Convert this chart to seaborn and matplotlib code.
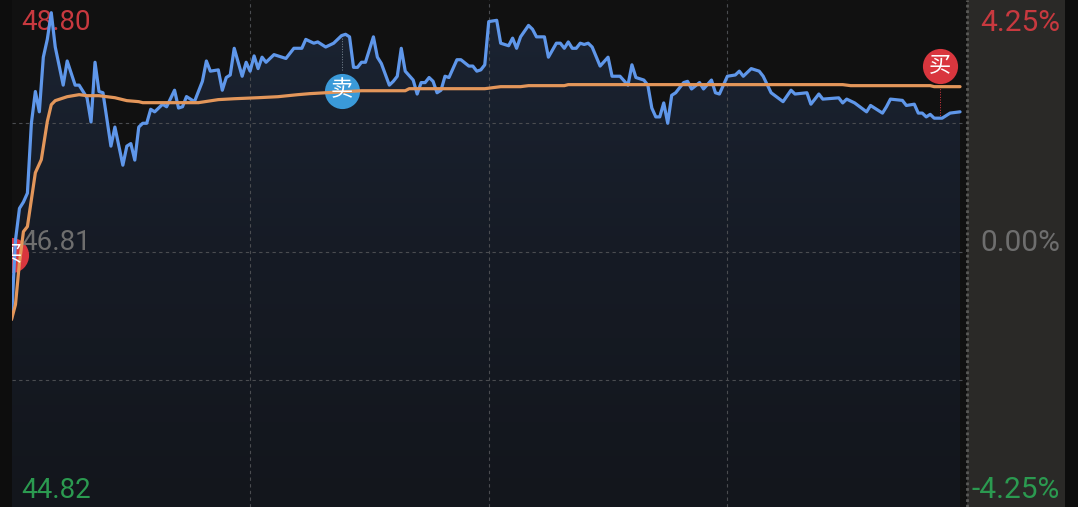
import matplotlib
matplotlib.use("Agg")
import matplotlib.pyplot as plt
from matplotlib.colors import LinearSegmentedColormap
from matplotlib.patches import Rectangle
import numpy as np
import pandas as pd
import seaborn as sns

# intraday price, minutes since the open
price_minutes = [0, 1, 2, 3, 4, 5, 6, 7, 8, 9, 10, 11, 13, 14, 16, 17, 19, 20, 21, 22, 23, 25, 26, 28, 29, 30,
                 31, 32, 33, 34, 35, 36, 38, 39, 41, 42, 43, 44, 46, 48, 49, 50, 52, 53, 54, 55, 56, 58, 59, 60,
                 61, 62, 63, 64, 66, 69, 71, 73, 74, 76, 77, 79, 81, 83, 84, 85, 86, 87, 88, 89, 91, 92, 93, 95,
                 96, 97, 98, 99, 101, 102, 103, 104, 105, 106, 107, 108, 109, 110, 112, 113, 115, 116, 117, 118, 119, 120,
                 122, 123, 125, 126, 127, 128, 130, 131, 132, 134, 135, 137, 138, 139, 140, 141, 142, 143, 144, 145,
                 146, 148, 150, 151, 153, 155, 156, 157, 159, 160, 161, 162, 163, 164, 165, 166, 167, 169, 170, 171,
                 173, 174, 176, 177, 178, 180, 182, 183, 184, 186, 188, 189, 191, 194, 196, 197, 200, 201, 203, 204,
                 208, 209, 210, 212, 215, 216, 219, 220, 221, 224, 225, 227, 228, 229, 230, 231, 232, 234, 236, 238.5]
price_values = [46.28, 46.90, 47.15, 47.20, 47.27, 47.82, 48.07, 47.91, 48.34, 48.48, 48.69, 48.42, 48.12, 48.31, 48.12, 48.12, 48.02, 47.83, 48.30, 48.07, 48.06, 47.64, 47.79, 47.49, 47.64, 47.66,
                47.53, 47.79, 47.82, 47.82, 47.93, 47.91, 47.97, 47.95, 48.08, 47.94, 47.95, 48.03, 47.99, 48.15, 48.31, 48.23, 48.24, 48.08, 48.18, 48.20, 48.41, 48.19, 48.30, 48.23,
                48.35, 48.25, 48.34, 48.30, 48.36, 48.33, 48.41, 48.41, 48.48, 48.45, 48.46, 48.42, 48.45, 48.51, 48.52, 48.50, 48.26, 48.26, 48.30, 48.30, 48.50, 48.34, 48.29, 48.12,
                48.15, 48.19, 48.41, 48.23, 48.16, 48.05, 48.14, 48.14, 48.18, 48.15, 48.06, 48.08, 48.19, 48.18, 48.32, 48.32, 48.27, 48.27, 48.23, 48.24, 48.28, 48.62,
                48.63, 48.45, 48.43, 48.49, 48.41, 48.50, 48.59, 48.56, 48.50, 48.50, 48.34, 48.45, 48.45, 48.41, 48.46, 48.41, 48.41, 48.45, 48.44, 48.45,
                48.42, 48.27, 48.34, 48.19, 48.19, 48.12, 48.28, 48.18, 48.16, 48.12, 47.94, 47.87, 47.87, 47.98, 47.82, 48.04, 48.06, 48.14, 48.15, 48.09,
                48.14, 48.09, 48.16, 48.06, 48.05, 48.19, 48.20, 48.23, 48.19, 48.25, 48.23, 48.19, 48.06, 47.99, 48.08, 48.05, 48.06, 47.97, 48.05, 48.01,
                48.02, 47.98, 48.01, 47.98, 47.91, 47.96, 47.90, 47.95, 48.01, 48.00, 47.96, 47.97, 47.90, 47.90, 47.87, 47.89, 47.86, 47.86, 47.90, 47.91]

# average price line
avg_minutes = [0, 1, 2, 3, 4, 6, 7.5, 9, 10, 11, 14, 17, 19, 22, 26, 29, 32, 33, 47, 52, 56, 62, 67, 72, 75, 88, 99, 100, 119, 123, 128, 130, 139, 140, 209, 211, 231, 232, 238.5]
avg_values = [46.275, 46.393, 46.723, 46.967, 47.007, 47.431, 47.534, 47.833, 47.966, 47.998, 48.029, 48.045, 48.037, 48.037, 48.021, 47.998, 47.99, 47.982, 47.982, 48.006, 48.013, 48.021, 48.029, 48.045, 48.053, 48.076, 48.076, 48.092, 48.092, 48.108, 48.108, 48.116, 48.116, 48.124, 48.124, 48.116, 48.116, 48.108, 48.108]

trade_minutes = [-0.2, 83, 233.5]
trade_prices = [46.78, 48.075, 48.27]
trade_labels = ["买", "卖", "买"]
trade_colors = ["#d9363e", "#3a9ad9", "#d9363e"]
trade_link_top = [46.81, 48.52, 48.12]
trade_link_bottom = [46.81, 48.24, 47.86]

grid_prices = [45.80, 46.81, 47.82]
grid_minutes = [60, 120, 180]

left_labels = ["48.80", "46.81", "44.82"]
right_labels = ["4.25%", "0.00%", "-4.25%"]
label_colors = ["#c8393f", "#6e6e6e", "#2b9a50"]

W, H = 1078, 507
sns.set_theme(style="dark")
plt.rcParams["font.family"] = ["Roboto", "Noto Sans CJK SC", "DejaVu Sans"]

fig = plt.figure(figsize=(W / 100, H / 100), dpi=100, facecolor="#0d0d0d")
ax = fig.add_axes([11.5 / W, 0, (966 - 11.5) / W, 1], facecolor="#111111")
ax.set_xlim(0, 240)
ax.set_ylim(44.80, 48.79)

# gradient under the price line
poly = ax.fill_between(price_minutes, price_values, 44.80, color="none", zorder=1)
grad = LinearSegmentedColormap.from_list("area", ["#13161c", "#161b25", "#1b2433"])
img = ax.imshow(np.linspace(0, 1, 256).reshape(-1, 1), extent=(0, 240, 44.80, 48.79), origin="lower",
                aspect="auto", cmap=grad, zorder=1)
img.set_clip_path(poly.get_paths()[0], transform=ax.transData)

ax.set_xticks(grid_minutes)
ax.set_yticks(grid_prices)
ax.tick_params(length=0, labelleft=False, labelbottom=False)
ax.grid(True, color="#4a4c50", linestyle=(0, (3, 3)), linewidth=0.8, zorder=2)
ax.set_axisbelow(False)
for s in ax.spines.values():
    s.set_visible(False)

# trade markers
for m, p, top, bottom, lab, col in zip(trade_minutes, trade_prices, trade_link_top, trade_link_bottom, trade_labels, trade_colors):
    ax.plot([m, m], [bottom, top], color=col if lab == "买" else "#7a8894", linewidth=0.7, linestyle=":", zorder=3)
    sns.scatterplot(x=[m], y=[p], s=640, color=col, linewidth=0, ax=ax, zorder=3, legend=False)
    ax.text(m, p, lab, color="white", fontsize=16, ha="center", va="center", zorder=6, clip_on=True)

price_df = pd.DataFrame({"minute": price_minutes, "price": price_values})
avg_df = pd.DataFrame({"minute": avg_minutes, "price": avg_values})
sns.lineplot(data=price_df, x="minute", y="price", color="#5f97ea", linewidth=2.3, ax=ax, zorder=4, errorbar=None, estimator=None)
sns.lineplot(data=avg_df, x="minute", y="price", color="#e3965a", linewidth=2.3, ax=ax, zorder=5, errorbar=None, estimator=None)
ax.set_xlabel("")
ax.set_ylabel("")

# right hand band with dotted border
fig.add_artist(Rectangle((967 / W, 0), 98 / W, 1, transform=fig.transFigure, facecolor="#2a2927", edgecolor="none", zorder=0))
fig.add_artist(plt.Line2D([966.5 / W, 966.5 / W], [0, 1], transform=fig.transFigure, color="#5a5a58", linewidth=2, linestyle=(0, (1, 1))))

# left labels sit under the lines, right labels on the band
ys = [23, 243, 490]
for lab, rlab, col, y in zip(left_labels, right_labels, label_colors, ys):
    ax.text(21 / W, 1 - y / H, lab, color=col, fontsize=20, ha="left", va="center", zorder=3.5,
            transform=fig.transFigure, clip_on=False)
    fig.text(1060 / W, 1 - y / H, rlab, color=col, fontsize=21.5, ha="right", va="center", zorder=10)

fig.savefig("out.png", dpi=100, facecolor=fig.get_facecolor())
